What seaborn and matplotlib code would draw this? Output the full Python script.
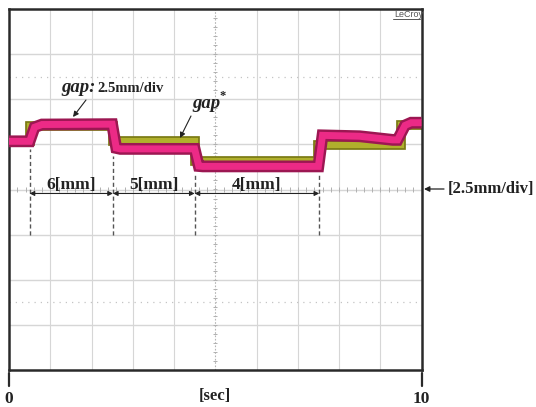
import matplotlib
matplotlib.use("Agg")
import matplotlib.pyplot as plt
import seaborn as sns
import numpy as np
import pandas as pd

gap_t = [0, 0.5, 0.62, 0.8, 2.5, 2.6, 2.7, 4.5, 4.6, 4.7, 7.5, 7.6, 8.5, 9.3, 9.42, 9.6, 9.75, 10]
gap_mm = [4.97, 4.97, 5.75, 5.9, 5.92, 4.6, 4.55, 4.55, 3.6, 3.58, 3.58, 5.3, 5.25, 5.05, 5.05, 5.85, 6.0, 6.0]

# gap command gap* (olive trace)
ref_t = [0, 0.5, 0.5, 2.52, 2.52, 4.5, 4.5, 7.5, 7.5, 9.5, 9.5, 10]
ref_mm = [5.0, 5.0, 5.8, 5.8, 4.97, 4.97, 3.9, 3.9, 4.74, 4.74, 5.85, 5.85]

# step instants and the command level between them
step_t = [0.5, 2.52, 4.5, 7.52]
step_labels = ["6[mm]", "5[mm]", "4[mm]"]

x_ticks = [0, 10]
x_tick_labels = ["0", "10"]

y_center = 2.3      # mm at the centre graticule line
mm_per_div = 2.5

W, H = 536, 407


def fx(x):
    return x / W


def fy(y):
    return 1 - y / H


sns.set_style("white")
plt.rcParams["font.family"] = ["Liberation Serif", "DejaVu Serif"]

fig = plt.figure(figsize=(W / 100, H / 100), dpi=100)
ax = fig.add_axes([fx(9), 37 / H, 412.5 / W, 361 / H])

ax.set_xlim(0, 10)
ax.set_ylim(y_center - 4 * mm_per_div, y_center + 4 * mm_per_div)

# graticule
grid_c = "#d6d6d6"
for t in range(1, 10):
    if t == 5:
        ax.axvline(t, color="#b5b5b5", lw=0.8, ls=(0, (1.5, 1.5)), zorder=0)
    else:
        ax.axvline(t, color=grid_c, lw=0.8, zorder=0)
for k in range(-3, 4):
    ax.axhline(y_center + k * mm_per_div, color=grid_c, lw=1.0, zorder=0)
for k in (-2.5, 2.5):
    ax.axhline(y_center + k * mm_per_div, color="#c4c4c4", lw=0.9,
               ls=(0, (1, 4)), zorder=0)
# minor ticks on the centre cross
ym = np.arange(-4, 4.01, 0.2) * mm_per_div + y_center
ax.hlines(ym, 4.95, 5.05, color="#b0b0b0", lw=0.7, zorder=0)
xm = np.arange(0, 10.01, 0.2)
ax.vlines(xm, y_center - 0.12, y_center + 0.12, color="#b0b0b0", lw=0.7, zorder=0)

# traces
df_ref = pd.DataFrame({"t": ref_t, "mm": ref_mm})
df_gap = pd.DataFrame({"t": gap_t, "mm": gap_mm})
styles = [
    (df_ref, "#7a7a14", 7.0, 2),
    (df_ref, "#b0b02c", 4.5, 2),
    (df_gap, "#9c1752", 8.5, 3),
    (df_gap, "#ec2a86", 5.0, 3),
]
for d, c, w, z in styles:
    sns.lineplot(data=d, x="t", y="mm", color=c, lw=w, estimator=None,
                 sort=False, ax=ax, zorder=z, solid_joinstyle="miter",
                 solid_capstyle="butt")

# dashed markers at the steps and the gap distance arrows
y_low = y_center - mm_per_div
for t in step_t:
    top = min(np.interp(t - 0.05, gap_t, gap_mm), np.interp(t + 0.25, gap_t, gap_mm)) - 0.4
    ax.vlines(t, y_low, top, color="#555555", lw=1.0, ls=(0, (3, 2)), zorder=4)

y_arrow = y_center - 0.22
for i, lab in enumerate(step_labels):
    ax.annotate("", xy=(step_t[i], y_arrow), xytext=(step_t[i + 1], y_arrow),
                arrowprops=dict(arrowstyle="<|-|>", color="#222222", lw=0.8,
                                mutation_scale=7, shrinkA=0, shrinkB=0), zorder=5)
    ax.text((step_t[i] + step_t[i + 1]) / 2, y_center + 0.05, lab, ha="center",
            va="baseline", fontsize=12.5, weight="bold", color="#222222", zorder=6)

# frame
for s in ax.spines.values():
    s.set_color("#2a2a2a")
    s.set_linewidth(1.8)
ax.set_yticks([])
ax.set_xticks(x_ticks)
ax.set_xticklabels(x_tick_labels, fontsize=12.5, weight="bold")
ax.tick_params(axis="x", bottom=True, length=0, pad=15, labelcolor="#222222")
# short detached tick marks under the frame
for t in x_ticks:
    ax.plot([t, t], [-3 / 361, -16 / 361], transform=ax.get_xaxis_transform(),
            clip_on=False, color="#2a2a2a", lw=1.6)
ax.set_xlabel("[sec]", fontsize=12, weight="bold", color="#222222")
ax.xaxis.set_label_coords(0.5, -0.05)
ax.set_ylabel("")

# annotations
fig.text(fx(61), fy(92), "gap:", fontsize=13.5, weight="bold", style="italic",
         va="baseline", color="#222222")
fig.text(fx(97), fy(92), "2.5mm/div", fontsize=10.5, weight="bold",
         va="baseline", color="#222222")
ax.annotate("", xy=(73, H - 117), xytext=(86, H - 100), xycoords="figure pixels",
            arrowprops=dict(arrowstyle="-|>", color="#222222", lw=0.8,
                            mutation_scale=8, shrinkA=0, shrinkB=0))

fig.text(fx(192), fy(108), "gap", fontsize=13.5, weight="bold", style="italic",
         va="baseline", color="#222222")
fig.text(fx(219), fy(99), "*", fontsize=9, weight="bold", va="baseline",
         color="#222222")
ax.annotate("", xy=(180, H - 138), xytext=(191, H - 116), xycoords="figure pixels",
            arrowprops=dict(arrowstyle="-|>", color="#222222", lw=0.8,
                            mutation_scale=8, shrinkA=0, shrinkB=0))

fig.text(fx(448), fy(189), "[2.5mm/div]", fontsize=12, weight="bold",
         va="center", color="#222222")
ax.annotate("", xy=(424, H - 189), xytext=(444, H - 189), xycoords="figure pixels",
            arrowprops=dict(arrowstyle="-|>", color="#222222", lw=0.9,
                            mutation_scale=8, shrinkA=0, shrinkB=0))

fig.text(fx(394), fy(17), "LeCroy", fontsize=6.5, color="#555555",
         family="Liberation Sans", va="baseline")
fig.add_artist(plt.Line2D([fx(393), fx(420)], [fy(19), fy(19)], color="#555555", lw=0.7))

fig.savefig("out.png", dpi=100)
